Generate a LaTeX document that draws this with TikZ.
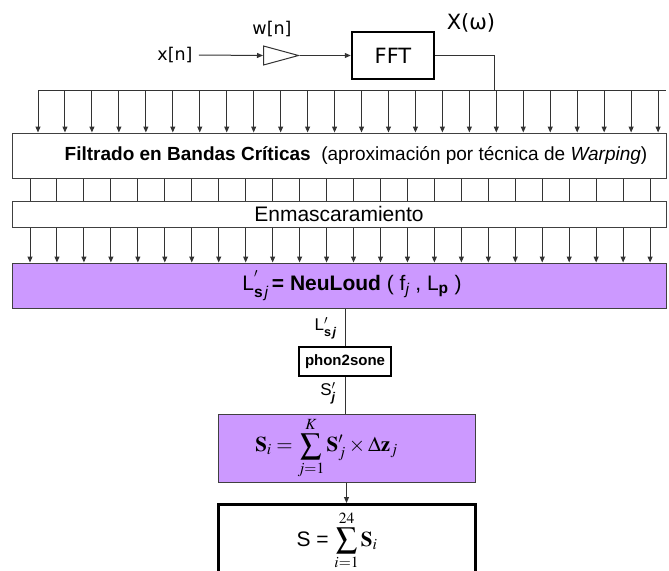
\documentclass[tikz,border=0pt]{standalone}
\usepackage{amsmath}
\usepackage{mathptmx}
\usepackage[no-math]{fontspec}
\setmainfont{Liberation Sans}
\newfontfamily\dejavu{DejaVu Sans}
\usetikzlibrary{arrows.meta,shapes.geometric}

\definecolor{lila}{HTML}{CC99FF}

\begin{document}
\begin{tikzpicture}[
    x=1pt, y=-1pt,
    wire/.style={draw=black!80, line width=1pt},
    sig/.style={wire, -{Triangle[length=6pt,width=5pt]}},
    band/.style={
        draw=black!75,
        line width=1pt,
        fill=white,
        minimum width=654pt,
        inner sep=0pt
    },
    block/.style={
        draw=black,
        line width=2pt,
        fill=white,
        inner sep=0pt
    },
    calc/.style={
        draw=black!75,
        line width=1pt,
        fill=lila,
        inner sep=0pt
    },
    amp/.style={
        draw=black!80,
        line width=1pt,
        fill=white,
        isosceles triangle,
        isosceles triangle stretches,
        minimum width=19pt,
        minimum height=35pt,
        inner sep=0pt
    },
    sigtext/.style={font=\dejavu\fontsize{17.5}{20}\selectfont, inner sep=0pt}
]
\clip (0,0) rectangle (669,570);

% entrada y FFT
\node[sigtext] (xin) at (175,55) {x[n]};
\node[amp, anchor=lower side] (win) at (263,55.5) {};
\node[sigtext] (wlabel) at (272,29) {w[n]};
\node[block, line width=2.5pt, minimum width=82pt, minimum height=47pt,
      font=\dejavu\fontsize{21}{24}\selectfont] (fft) at (393,55.5) {FFT};
\node[sigtext, font=\dejavu\fontsize{21}{24}\selectfont] (spec) at (471,22.5) {X(ω)};

\coordinate (tap) at (494,90);
\coordinate (busL) at (38,90);
\coordinate (busR) at (666,90);

\draw[sig] ([xshift=6pt]xin.east) -- (win.lower side);
\draw[sig] (win.apex) -- (fft.west);
\draw[wire] (fft.east) -| (tap);
\draw[wire] (busL) -- (busR);

% bandas
\node[band, minimum height=45pt, font=\fontsize{19}{22}\selectfont] (filt) at (339,155.5)
    {\hspace*{34pt}\textbf{Filtrado en Bandas Críticas} \ (aproximación por técnica de \textit{Warping})};
\node[band, minimum height=26pt, font=\fontsize{21}{24}\selectfont] (mask) at (339,214)
    {Enmascaramiento};
\node[calc, minimum width=654pt, minimum height=45pt, font=\fontsize{21}{24}\selectfont] (loud) at (339,285.5)
    {\hspace*{26pt}L$^{'}_{\textbf{s}\,\textit{j}}$\,\textbf{= NeuLoud} ( f$_{\textit{j}}$ , L$_{\textbf{p}}$ )};

\foreach \k in {0,...,23} {
    \coordinate (b\k) at (38+26.96*\k, 90);
    \draw[sig] (b\k) -- (b\k |- filt.north);
}
\foreach \k in {0,...,23} {
    \coordinate (m\k) at (30+26.96*\k, 0);
    \draw[wire] (m\k |- filt.south) -- (m\k |- mask.north);
    \draw[sig] (m\k |- mask.south) -- (m\k |- loud.north);
}

% sonoridad
\node[block, minimum width=92pt, minimum height=29pt,
      font=\bfseries\fontsize{15}{17}\selectfont] (p2s) at (345,361.5) {phon2sone};
\node[calc, minimum width=257pt, minimum height=68pt, font=\fontsize{21}{25}\selectfont] (sone) at (346.5,448)
    {\hspace*{-40pt}$\displaystyle \mathbf{S}_{i} = \sum_{j=1}^{K}\mathbf{S}'_{j}\times\Delta\mathbf{z}_{j}$};
\node[block, line width=3pt, minimum width=257pt, minimum height=72pt, anchor=north,
      font=\fontsize{21}{25}\selectfont] (total) at (346.5,503)
    {\hspace*{-19pt}S = $\displaystyle\sum_{i=1}^{24}\mathbf{S}_{i}$};

\node[anchor=east, inner sep=0pt, font=\fontsize{17}{20}\selectfont] (lsj) at (337,328)
    {L$'_{\textbf{s}\,\textbf{\textit{j}}}$};
\node[anchor=east, inner sep=0pt, font=\fontsize{17}{20}\selectfont] (sj) at (336,393)
    {S$'_{\textbf{\textit{j}}}$};

\draw[wire] (p2s.north |- loud.south) -- (p2s.north);
\draw[wire] (p2s.south) -- (p2s.south |- sone.north);
\draw[sig] (sone.south) -- (total.north);

\end{tikzpicture}
\end{document}
